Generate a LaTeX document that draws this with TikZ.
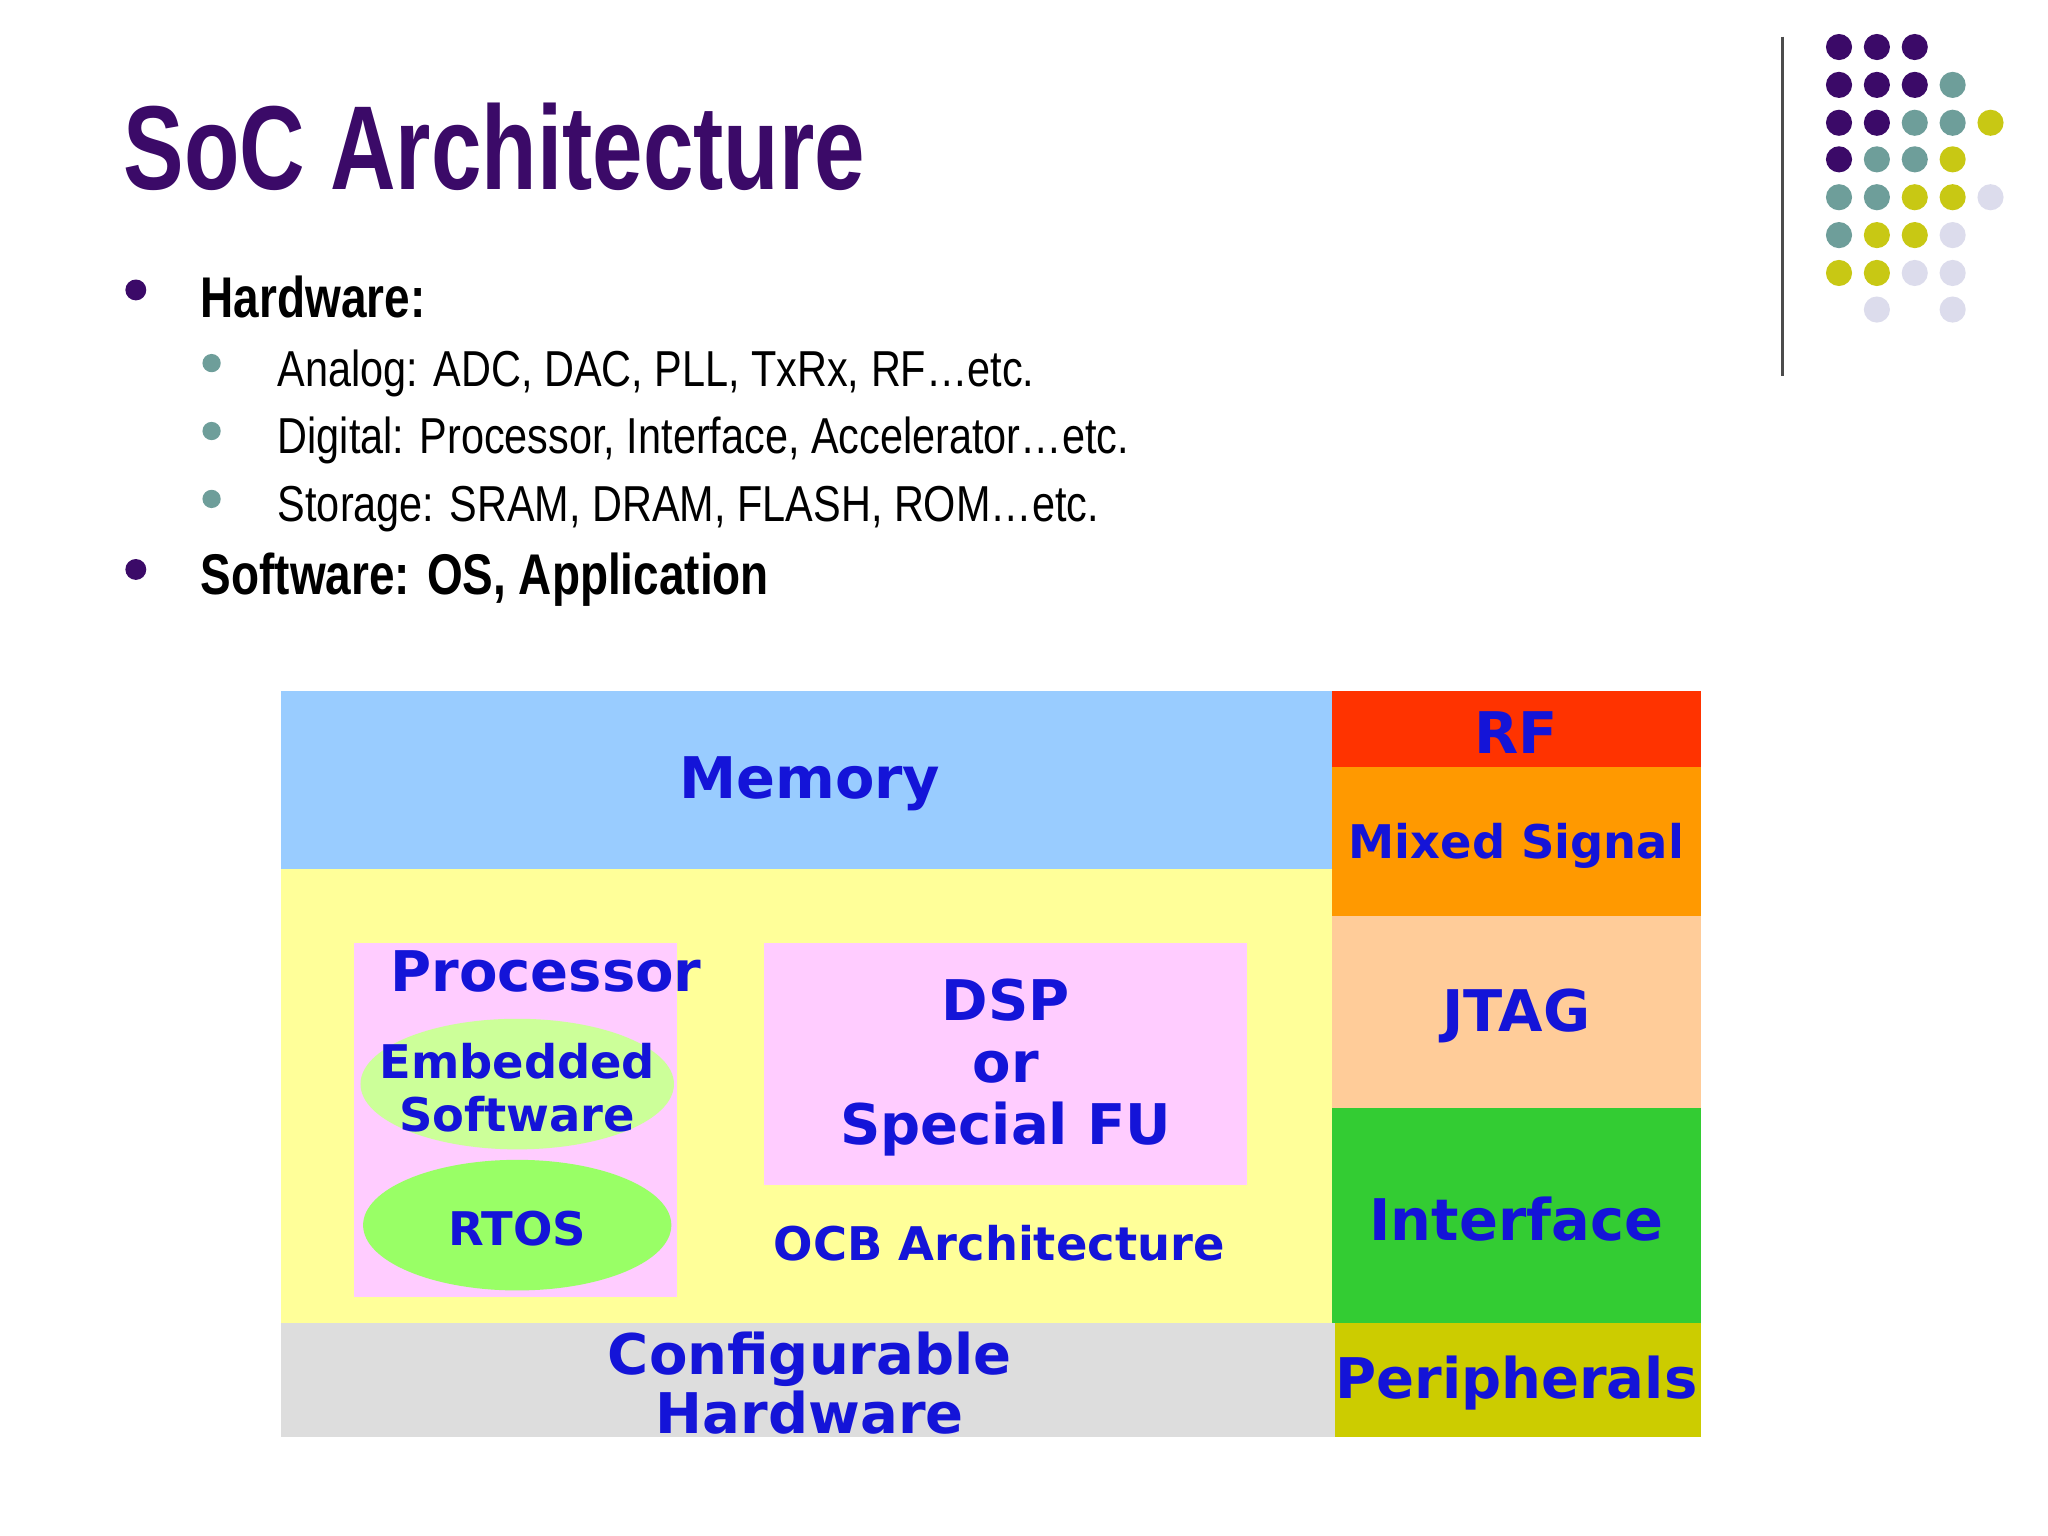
\documentclass[tikz,border=0pt]{standalone}
\usepackage{fontspec}
\setmainfont{Liberation Sans}
\newfontfamily\verd{DejaVu Sans}
\usetikzlibrary{shapes.geometric}
\definecolor{pu}{HTML}{3B0A68}\definecolor{te}{HTML}{6E9E9A}
\definecolor{ye}{HTML}{C8C814}\definecolor{la}{HTML}{DCDCEC}
\definecolor{bl}{HTML}{1414D8}
\definecolor{cmem}{HTML}{99CCFF}\definecolor{cyel}{HTML}{FFFF99}
\definecolor{ccfg}{HTML}{DDDDDD}\definecolor{crf}{HTML}{FF3300}
\definecolor{cmx}{HTML}{FF9900}\definecolor{cjt}{HTML}{FFCC99}
\definecolor{cif}{HTML}{33CC33}\definecolor{cper}{HTML}{CCCC00}
\definecolor{cpk}{HTML}{FFCCFF}\definecolor{cemb}{HTML}{CCFF99}
\definecolor{crt}{HTML}{99FF66}
\begin{document}
\begin{tikzpicture}[x=0.01cm,y=-0.01cm,
 lab/.style={font=\verd\bfseries\fontsize{12.5}{15}\selectfont,text=bl,align=center},
 sml/.style={lab,font=\verd\bfseries\fontsize{10.1}{11.5}\selectfont},
 nar/.style={font=\fontsize{11}{13}\selectfont,anchor=base west,inner sep=0}]
\useasboundingbox (0,0) rectangle (1568,1176);
\fill[white] (0,0) rectangle (1568,1176);
% title
\node[anchor=base west,inner sep=0,text=pu,font=\bfseries\fontsize{26}{30}\selectfont] (title) at (94,145) {\scalebox{0.76}[1]{SoC Architecture}};
\draw[line width=0.6pt,black!70] (1365,28) -- (1365,288);
\foreach \r/\cols in {36/{pu,pu,pu},65/{pu,pu,pu,te},94/{pu,pu,te,te,ye},122/{pu,te,te,ye},151/{te,te,ye,ye,la},180/{te,ye,ye,la},209/{ye,ye,la,la}}{
 \foreach \c [count=\i from 0] in \cols { \fill[\c] (1408+29*\i,\r) circle (10); } }
\fill[la] (1437,237) circle (10); \fill[la] (1495,237) circle (10);
% bullets
\fill[pu] (104,222) circle (8); \fill[pu] (104,436) circle (8);
\foreach \y in {278,330,382} \fill[te] (162,\y) circle (7);
\node[nar,font=\bfseries\fontsize{12.5}{15}\selectfont] (hw) at (153,243) {\scalebox{0.8}[1]{Hardware:}};
\node[nar] (a1) at (212,296) {\scalebox{0.82}[1]{Analog: ADC, DAC, PLL, TxRx, RF…etc.}};
\node[nar] (a2) at (212,347) {\scalebox{0.82}[1]{Digital: Processor, Interface, Accelerator…etc.}};
\node[nar] (a3) at (212,399) {\scalebox{0.82}[1]{Storage: SRAM, DRAM, FLASH, ROM…etc.}};
\node[nar,font=\bfseries\fontsize{12.5}{15}\selectfont] (sw) at (153,455) {\scalebox{0.8}[1]{Software: OS, Application}};
% blocks
\fill[cmem] (215,529) rectangle (1020,665);
\fill[cyel] (215,665) rectangle (1020,1013);
\fill[ccfg] (215,1013) rectangle (1022,1100);
\fill[crf] (1020,529) rectangle (1302,587);
\fill[cmx] (1020,587) rectangle (1302,701);
\fill[cjt] (1020,701) rectangle (1302,848);
\fill[cif] (1020,848) rectangle (1302,1013);
\fill[cper] (1022,1013) rectangle (1302,1100);
\fill[cpk] (271,722) rectangle (518,993);
\fill[cpk] (585,722) rectangle (955,907);
\fill[cemb] (396,830) ellipse (120 and 50);
\fill[crt] (396,938) ellipse (118 and 50);
\node[lab] (mem) at (620,600) {Memory};
\node[lab] (rf) at (1161,561) {RF};
\node[sml] (mx) at (1161,648) {Mixed Signal};
\node[lab] (jt) at (1161,778) {JTAG};
\node[lab] (itf) at (1161,933) {Interface};
\node[lab,font=\verd\bfseries\fontsize{12.2}{15}\selectfont] (per) at (1161,1059) {Peripherals};
\node[lab,font=\verd\bfseries\fontsize{12.2}{15}\selectfont] (pr) at (418,744) {Processor};
\node[sml] (emb) at (396,833) {Embedded\\Software};
\node[sml] (rt) at (396,941) {RTOS};
\node[lab,font=\verd\bfseries\fontsize{12.2}{13.5}\selectfont] (dsp) at (770,817) {DSP\\or\\Special FU};
\node[sml] (ocb) at (765,952) {OCB Architecture};
\node[lab,font=\verd\bfseries\fontsize{12.2}{13}\selectfont] (cfg) at (620,1059) {Configurable\\Hardware};
\end{tikzpicture}
\end{document}
